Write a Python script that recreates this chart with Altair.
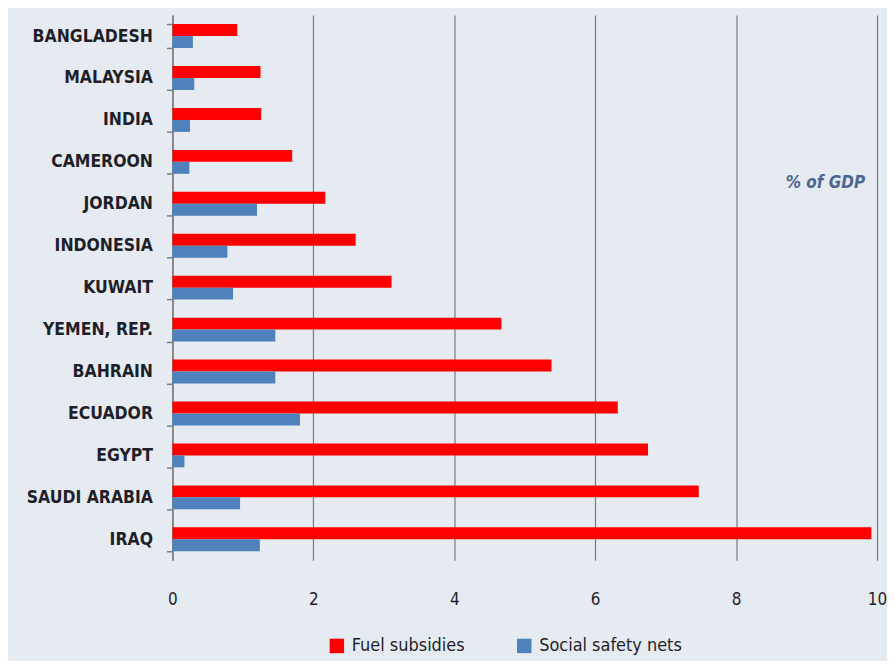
import altair as alt
import pandas as pd

countries = ["BANGLADESH", "MALAYSIA", "INDIA", "CAMEROON", "JORDAN", "INDONESIA",
             "KUWAIT", "YEMEN, REP.", "BAHRAIN", "ECUADOR", "EGYPT", "SAUDI ARABIA", "IRAQ"]
fuel_subsidies = [0.92, 1.25, 1.26, 1.70, 2.17, 2.60, 3.11, 4.67, 5.38, 6.32, 6.75, 7.47, 9.92]
social_safety = [0.29, 0.31, 0.25, 0.24, 1.20, 0.78, 0.86, 1.46, 1.46, 1.81, 0.17, 0.96, 1.24]
series = ["Fuel subsidies", "Social safety nets"]
colors = ["#ff0000", "#4f81bd"]
x_ticks = [0, 2, 4, 6, 8, 10]

rows = []
for c, f, s in zip(countries, fuel_subsidies, social_safety):
    rows.append({"country": c, "series": series[0], "value": f})
    rows.append({"country": c, "series": series[1], "value": s})
df = pd.DataFrame(rows)

FONT = "Liberation Sans Narrow, DejaVu Sans Condensed, sans-serif"
BG = "#e5ebf1"

bars = alt.Chart(df).mark_bar().encode(
    x=alt.X("value:Q",
            scale=alt.Scale(domain=[0, 10], nice=False),
            axis=alt.Axis(values=x_ticks, title=None, grid=True, gridColor="#7a7a7a",
                          gridWidth=1.2, domain=False, ticks=False, labelPadding=31,
                          labelFlush=False, labelFontSize=17, labelColor="#1f1f2a",
                          labelFont=FONT, labelFontWeight=500)),
    y=alt.Y("country:N", sort=countries,
            scale=alt.Scale(paddingInner=0.43, paddingOuter=0.215),
            axis=alt.Axis(title=None, tickBand="extent", tickSize=6, tickColor="#7f7f7f",
                          domainColor="#7f7f7f", domainWidth=1.5, tickWidth=1.5,
                          labelPadding=14, labelFontSize=17.5, labelColor="#1f1f2a",
                          labelFont=FONT, labelFontWeight="bold", grid=False)),
    yOffset=alt.YOffset("series:N", sort=series),
    color=alt.Color("series:N", sort=series,
                    scale=alt.Scale(domain=series, range=colors),
                    legend=alt.Legend(title=None, orient="none", direction="horizontal",
                                      legendX=156, legendY=624, symbolType="square",
                                      symbolSize=210, symbolStrokeWidth=0,
                                      labelFontSize=18, labelFont=FONT,
                                      labelColor="#1f1f2a", columnPadding=50,
                                      labelOffset=6, labelLimit=300)),
)

label = alt.Chart(pd.DataFrame({"t": ["% of GDP"]})).mark_text(
    align="right", baseline="middle", fontStyle="italic", fontSize=17,
    font=FONT, color="#4d6791", fontWeight="bold"
).encode(x=alt.value(695), y=alt.value(169), text="t:N")

chart = alt.layer(bars, label).properties(
    width=707, height=547,
    background=BG,
    autosize=alt.AutoSizeParams(type="none"),
    padding={"left": 165, "top": 6, "right": 10, "bottom": 100},
).configure_view(stroke=None, fill=BG)

chart.save("out.html", embed_options={"renderer": "svg", "actions": False})
